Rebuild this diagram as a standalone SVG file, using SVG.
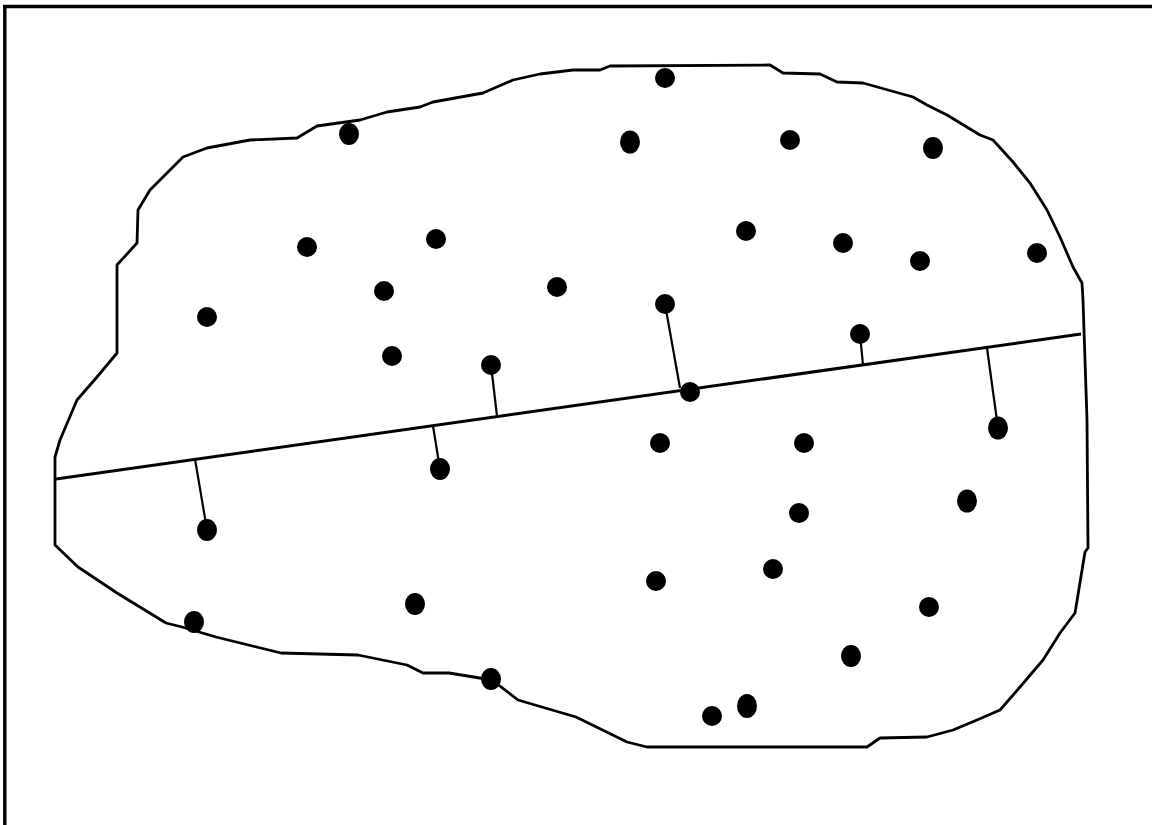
<svg xmlns="http://www.w3.org/2000/svg" width="1152" height="825" viewBox="0 0 1152 825">
<style>
.frame{stroke:#000;stroke-width:3.5;fill:none}
.outline{fill:#fff;stroke:#000;stroke-width:2.8;stroke-linejoin:round}
.axis{stroke:#000;stroke-width:3;fill:none}
.conn{stroke:#000;stroke-width:2.2;fill:none}
.dot{fill:#000}
</style>
<rect x="0" y="0" width="1152" height="825" fill="#fff"/>
<g id="frame">
<line class="frame" x1="3" y1="6.5" x2="1152" y2="6.5"/>
<line class="frame" x1="4.8" y1="5" x2="4.8" y2="825"/>
</g>
<g id="region">
<path class="outline" d="M55,457 L60,440 L77,400 L97,377 L117,353 L117,265 L137,243 L138,210 L150,190 L183,157 L207,148 L250,140 L297,138 L317,126 L360,120 L387,112 L420,107 L433,102 L483,93 L513,80 L540,74 L573,70 L600,70 L610,66 L770,65 L783,73 L820,74 L837,82 L863,83 L913,97 L927,105 L947,115 L980,135 L993,140 L1013,162 L1030,183 L1047,210 L1060,237 L1073,267 L1082,283 L1083,300 L1087,420 L1088,548 L1085,552 L1075,613 L1060,633 L1043,660 L1020,687 L1000,710 L977,720 L953,730 L927,737 L880,738 L867,747 L647,747 L627,742 L576,717 L518,700 L492,680 L449,673 L423,673 L407,665 L358,655 L281,653 L216,637 L182,627 L166,623 L117,593 L78,567 L55,545 Z"/>
</g>
<g id="connectors">
<line class="axis" x1="56" y1="479" x2="1081" y2="334"/>
<line class="conn" x1="665" y1="304" x2="680" y2="388"/>
<line class="conn" x1="860" y1="334" x2="863" y2="365"/>
<line class="conn" x1="491" y1="365" x2="497" y2="416"/>
<line class="conn" x1="998" y1="428" x2="987" y2="348"/>
<line class="conn" x1="440" y1="469" x2="433" y2="426"/>
<line class="conn" x1="207" y1="530" x2="195" y2="459"/>
</g>
<g id="points">
<circle id="p1" class="dot" cx="665" cy="78" r="10"/>
<ellipse id="p2" class="dot" cx="349" cy="134" rx="10" ry="11"/>
<ellipse id="p3" class="dot" cx="630" cy="142" rx="10" ry="11.5"/>
<circle id="p4" class="dot" cx="790" cy="140" r="10"/>
<ellipse id="p5" class="dot" cx="933" cy="148" rx="10" ry="11"/>
<circle id="p6" class="dot" cx="307" cy="247" r="10"/>
<circle id="p7" class="dot" cx="436" cy="239" r="10"/>
<circle id="p8" class="dot" cx="746" cy="231" r="10"/>
<circle id="p9" class="dot" cx="843" cy="243" r="10"/>
<circle id="p10" class="dot" cx="920" cy="261" r="10"/>
<circle id="p11" class="dot" cx="1037" cy="253" r="10"/>
<circle id="p12" class="dot" cx="207" cy="317" r="10"/>
<circle id="p13" class="dot" cx="384" cy="291" r="10"/>
<circle id="p14" class="dot" cx="557" cy="287" r="10"/>
<circle id="p15" class="dot" cx="665" cy="304" r="10"/>
<circle id="p16" class="dot" cx="860" cy="334" r="10"/>
<circle id="p17" class="dot" cx="392" cy="356" r="10"/>
<circle id="p18" class="dot" cx="491" cy="365" r="10"/>
<circle id="p19" class="dot" cx="690" cy="392" r="10"/>
<ellipse id="p20" class="dot" cx="998" cy="428" rx="10" ry="11.5"/>
<circle id="p21" class="dot" cx="660" cy="443" r="10"/>
<circle id="p22" class="dot" cx="804" cy="443" r="10"/>
<ellipse id="p23" class="dot" cx="440" cy="469" rx="10" ry="11"/>
<ellipse id="p24" class="dot" cx="207" cy="530" rx="10" ry="11"/>
<ellipse id="p25" class="dot" cx="967" cy="501" rx="10" ry="11.5"/>
<circle id="p26" class="dot" cx="799" cy="513" r="10"/>
<circle id="p27" class="dot" cx="773" cy="569" r="10"/>
<circle id="p28" class="dot" cx="656" cy="581" r="10"/>
<ellipse id="p29" class="dot" cx="415" cy="604" rx="10" ry="11"/>
<circle id="p30" class="dot" cx="929" cy="607" r="10"/>
<ellipse id="p31" class="dot" cx="194" cy="622" rx="10" ry="11"/>
<ellipse id="p32" class="dot" cx="851" cy="656" rx="10" ry="11"/>
<ellipse id="p33" class="dot" cx="491" cy="679" rx="10" ry="11"/>
<ellipse id="p34" class="dot" cx="747" cy="706" rx="10" ry="12"/>
<circle id="p35" class="dot" cx="712" cy="716" r="10"/>
</g>
</svg>
